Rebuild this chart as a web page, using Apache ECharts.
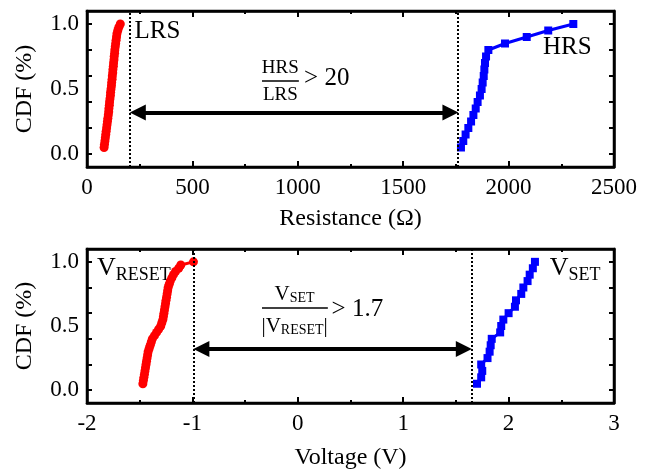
<!DOCTYPE html>
<html>
<head>
<meta charset="utf-8">
<script src="https://cdn.jsdelivr.net/npm/echarts@6/dist/echarts.min.js"></script>
<style>html,body{margin:0;padding:0;background:#fff}#c{width:654px;height:471px}</style>
</head>
<body>
<div id="c"></div>
<script>
// ---- data ----
const cdfHrs = [0.05,0.10,0.15,0.20,0.25,0.30,0.35,0.40,0.45,0.50,0.55,0.60,0.65,0.70,0.75,0.80,0.85,0.90,0.95,1.00];
const cdfLrs = [0.05,0.075,0.10,0.125,0.15,0.175,0.20,0.225,0.25,0.275,0.30,0.325,0.35,0.375,0.40,0.425,0.45,0.475,0.50,0.525,
                0.55,0.575,0.60,0.625,0.65,0.675,0.70,0.725,0.75,0.775,0.80,0.825,0.85,0.875,0.90,0.925,0.95,0.975,1.00];
const lrsOhm = [81,83,85,87,89,91,93,95,97,99,101,103,104,106,107,109,111,112,114,116,
                117,119,120,122,123,125,126,128,129,131,132,134,136,138,140,142,146,151,158];
const hrsOhm = [1774,1785,1796,1809,1822,1833,1844,1853,1864,1872,1877,1882,1885,1888,1893,1904,1983,2086,2188,2307];
const vReset = [-1.47,-1.465,-1.46,-1.455,-1.45,-1.445,-1.44,-1.435,-1.43,-1.425,-1.42,-1.41,-1.40,-1.39,-1.38,-1.36,-1.34,-1.32,-1.30,-1.29,
                -1.28,-1.275,-1.27,-1.265,-1.26,-1.255,-1.25,-1.245,-1.24,-1.235,-1.23,-1.22,-1.21,-1.195,-1.18,-1.16,-1.13,-1.11,-0.99];
const vSet = [1.70,1.74,1.75,1.74,1.80,1.82,1.83,1.84,1.92,1.93,1.95,2.00,2.06,2.07,2.12,2.14,2.18,2.20,2.23,2.25];
const resTicks = [0,500,1000,1500,2000,2500];
const voltTicks = [-2,-1,0,1,2,3];
const cdfTicks = [0.0,0.25,0.5,0.75,1.0];
const cdfLabeled = [0.0,0.5,1.0];
const resBounds = [205,1760];    // dotted lines, top panel
const voltBounds = [-0.99,1.65]; // dotted lines, bottom panel
const ratioRes = '20';
const ratioVolt = '1.7';

const FONT = "Liberation Serif";
const BLACK = '#000';

function xAx(grid, pos, ticks, name, showLabel, gap){
  const a = {
    type:'value', gridIndex:grid, position:pos,
    min:ticks[0], max:ticks[ticks.length-1], interval:ticks[1]-ticks[0],
    axisLine:{show:true,onZero:false,lineStyle:{color:BLACK,width:2.5}},
    axisTick:{show:true,inside:true,length:6,lineStyle:{color:BLACK,width:2}},
    minorTick:{show:true,splitNumber:2,length:3,lineStyle:{color:BLACK,width:2}},
    axisLabel:{show:true,margin:9,fontFamily:FONT,fontSize:23,color:BLACK,
      formatter: showLabel ? (v=>String(v)) : (()=>'')},
    splitLine:{show:false}, minorSplitLine:{show:false}
  };
  if (showLabel) {
    a.name = name; a.nameLocation = 'middle'; a.nameGap = gap;
    a.nameTextStyle = {fontFamily:FONT,fontSize:24,color:BLACK};
  }
  return a;
}
function yAx(grid, pos, showLabel){
  const a = {
    type:'value', gridIndex:grid, position:pos, min:-0.1, max:1.1,
    axisLine:{show:true,onZero:false,lineStyle:{color:BLACK,width:2.5}},
    axisTick:{show:true,inside:true,length:5,lineStyle:{color:BLACK,width:2}},
    axisLabel:{show:true,margin:8,fontFamily:FONT,fontSize:23,color:BLACK,customValues:cdfTicks,
      formatter: v => (showLabel && cdfLabeled.some(t=>Math.abs(t-v)<1e-9)) ? v.toFixed(1) : ''},
    splitLine:{show:false}
  };
  if (showLabel) {
    a.name = 'CDF (%)'; a.nameLocation = 'middle'; a.nameGap = 50; a.nameRotate = 90;
    a.nameTextStyle = {fontFamily:FONT,fontSize:24,color:BLACK};
  }
  return a;
}

const dotted = {type:'dotted',color:BLACK,width:2};
const arrowStyle = {type:'solid',color:BLACK,width:4};
const barStyle = {type:'solid',color:BLACK,width:1.5};

const option = {
  animation:false,
  backgroundColor:'#fff',
  grid:[
    {left:87,right:40,top:11,height:156,show:true,borderColor:BLACK,borderWidth:2.5},
    {left:87,right:40,top:249,height:155,show:true,borderColor:BLACK,borderWidth:2.5}
  ],
  xAxis:[
    xAx(0,'bottom',resTicks,'Resistance (Ω)',true,40),
    xAx(0,'top',resTicks,'',false),
    xAx(1,'bottom',voltTicks,'Voltage (V)',true,43),
    xAx(1,'top',voltTicks,'',false)
  ],
  yAxis:[
    yAx(0,'left',true),
    yAx(0,'right',false),
    yAx(1,'left',true),
    yAx(1,'right',false)
  ],
  series:[
    {type:'line', xAxisIndex:1, yAxisIndex:1, data:[], silent:true},
    {type:'line', xAxisIndex:3, yAxisIndex:3, data:[], silent:true},
    {
      name:'LRS', type:'line', xAxisIndex:0, yAxisIndex:0,
      data: lrsOhm.map((x,i)=>[x,cdfLrs[i]]),
      symbol:'circle', symbolSize:9, itemStyle:{color:'#ff0000'},
      lineStyle:{color:'#ff0000',width:3},
      markLine:{silent:true, symbol:'none', label:{show:false},
        lineStyle:dotted,
        data: resBounds.map(v=>({xAxis:v}))}
    },
    {
      name:'HRS', type:'line', xAxisIndex:0, yAxisIndex:0,
      data: hrsOhm.map((x,i)=>[x,cdfHrs[i]]),
      symbol:'rect', symbolSize:8, itemStyle:{color:'#0000ff'},
      lineStyle:{color:'#0000ff',width:3},
      markLine:{silent:true, symbol:['triangle','triangle'], symbolSize:16, label:{show:false},
        lineStyle:arrowStyle,
        data:[
          [{coord:[resBounds[0]+36,0.32]},{coord:[resBounds[1]-36,0.32]}],
          [{coord:[830,0.566],symbol:'none',lineStyle:barStyle},{coord:[1005,0.566],symbol:'none'}]
        ]}
    },
    {
      name:'V_RESET', type:'line', xAxisIndex:2, yAxisIndex:2,
      data: vReset.map((x,i)=>[x,cdfLrs[i]]),
      symbol:'circle', symbolSize:9, itemStyle:{color:'#ff0000'},
      lineStyle:{color:'#ff0000',width:3},
      markLine:{silent:true, symbol:'none', label:{show:false},
        lineStyle:dotted,
        data: voltBounds.map(v=>({xAxis:v}))}
    },
    {
      name:'V_SET', type:'line', xAxisIndex:2, yAxisIndex:2,
      data: vSet.map((x,i)=>[x,cdfHrs[i]]),
      symbol:'rect', symbolSize:8, itemStyle:{color:'#0000ff'},
      lineStyle:{color:'#0000ff',width:3},
      markLine:{silent:true, symbol:['triangle','triangle'], symbolSize:16, label:{show:false},
        lineStyle:arrowStyle,
        data:[
          [{coord:[voltBounds[0]+0.075,0.32]},{coord:[voltBounds[1]-0.075,0.32]}],
          [{coord:[-0.34,0.646],symbol:'none',lineStyle:barStyle},{coord:[0.285,0.646],symbol:'none'}]
        ]}
    }
  ]
};
const chart = echarts.init(document.getElementById('c'),null,{renderer:'canvas'});
chart.setOption(option);

// ---- text annotations, anchored in data coordinates ----
function rich(size, shift){
  return {
    v:{fontFamily:FONT,fontSize:size,fill:BLACK,lineHeight:size},
    s:{fontFamily:FONT,fontSize:Math.round(size*0.68),fill:BLACK,lineHeight:size,padding:[shift*2,0,0,0]}
  };
}
const notes = [
  {g:0, at:[225,0.94],   text:'LRS', size:25, align:'left'},
  {g:0, at:[2163,0.82],  text:'HRS', size:25, align:'left'},
  {g:0, at:[917,0.665],  text:'HRS', size:19, align:'center'},
  {g:0, at:[917,0.45],   text:'LRS', size:19, align:'center'},
  {g:0, at:[1030,0.58],  text:'> ' + ratioRes, size:25, align:'left'},
  {g:1, at:[-1.905,0.95], text:'{v|V}{s|RESET}', size:26, shift:7, align:'left'},
  {g:1, at:[2.39,0.95],   text:'{v|V}{s|SET}', size:26, shift:7, align:'left'},
  {g:1, at:[-0.03,0.745], text:'{v|V}{s|SET}', size:21, shift:4, align:'center'},
  {g:1, at:[-0.03,0.50],  text:'{v||V}{s|RESET}{v||}', size:21, shift:4, align:'center'},
  {g:1, at:[0.32,0.63],   text:'> ' + ratioVolt, size:25, align:'left'}
];
const elements = notes.map(n=>{
  const p = chart.convertToPixel({xAxisIndex:n.g===0?0:2, yAxisIndex:n.g===0?0:2}, n.at);
  const style = {text:n.text, x:0, y:0, align:n.align, verticalAlign:'middle', fill:BLACK,
    fontFamily:FONT, fontSize:n.size};
  if (n.shift) style.rich = rich(n.size, n.shift);
  return {type:'text', x:p[0], y:p[1], silent:true, style:style};
});
chart.setOption({graphic:{elements:elements}});
</script>
</body>
</html>
